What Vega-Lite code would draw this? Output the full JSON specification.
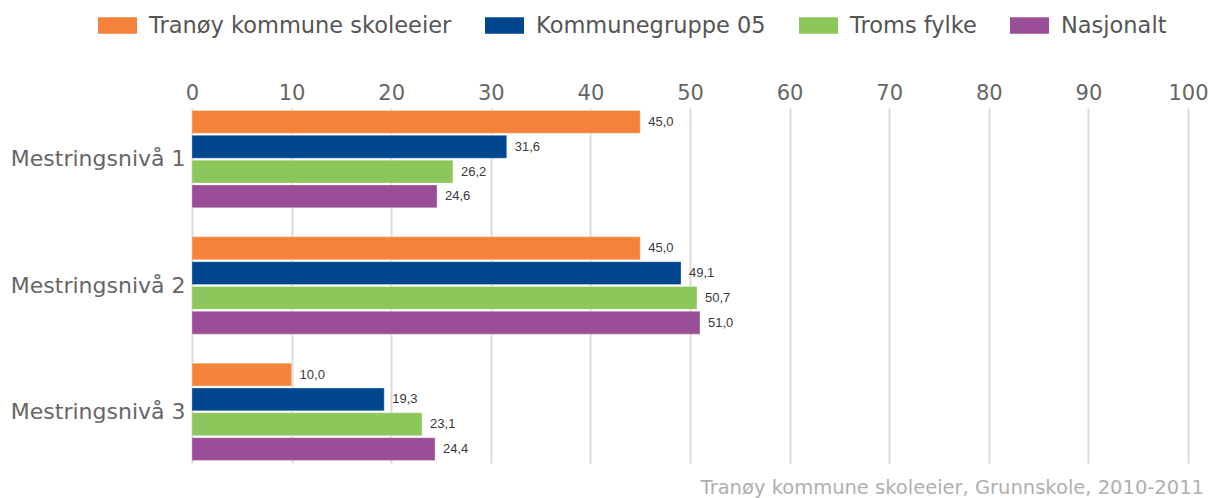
{
  "$schema": "https://vega.github.io/schema/vega-lite/v6.json",
  "width": 996,
  "height": 355,
  "autosize": {"type": "none"},
  "padding": {"left": 192, "top": 108, "right": 23, "bottom": 35},
  "background": "white",
  "title": {
    "text": "Tranøy kommune skoleeier, Grunnskole, 2010-2011",
    "orient": "bottom",
    "anchor": "end",
    "frame": "group",
    "font": "DejaVu Sans",
    "fontSize": 19.5,
    "fontWeight": "normal",
    "color": "#b0b0b0",
    "offset": 16,
    "dx": 16
  },
  "config": {
    "locale": {"number": {"decimal": ",", "thousands": " ", "grouping": [3], "currency": ["", " kr"]}},
    "view": {"stroke": null}
  },
  "data": {
    "values": [
      {"niva": "Mestringsnivå 1", "serie": "Tranøy kommune skoleeier", "verdi": 45.0},
      {"niva": "Mestringsnivå 1", "serie": "Kommunegruppe 05", "verdi": 31.6},
      {"niva": "Mestringsnivå 1", "serie": "Troms fylke", "verdi": 26.2},
      {"niva": "Mestringsnivå 1", "serie": "Nasjonalt", "verdi": 24.6},
      {"niva": "Mestringsnivå 2", "serie": "Tranøy kommune skoleeier", "verdi": 45.0},
      {"niva": "Mestringsnivå 2", "serie": "Kommunegruppe 05", "verdi": 49.1},
      {"niva": "Mestringsnivå 2", "serie": "Troms fylke", "verdi": 50.7},
      {"niva": "Mestringsnivå 2", "serie": "Nasjonalt", "verdi": 51.0},
      {"niva": "Mestringsnivå 3", "serie": "Tranøy kommune skoleeier", "verdi": 10.0},
      {"niva": "Mestringsnivå 3", "serie": "Kommunegruppe 05", "verdi": 19.3},
      {"niva": "Mestringsnivå 3", "serie": "Troms fylke", "verdi": 23.1},
      {"niva": "Mestringsnivå 3", "serie": "Nasjonalt", "verdi": 24.4}
    ]
  },
  "encoding": {
    "y": {
      "field": "niva",
      "type": "nominal",
      "sort": null,
      "scale": {"paddingInner": 0.23, "paddingOuter": 0.02},
      "axis": {
        "title": null,
        "ticks": false,
        "domain": false,
        "labelFont": "DejaVu Sans",
        "labelFontSize": 22,
        "labelColor": "#666666",
        "labelPadding": 7,
        "labelLimit": 300
      }
    },
    "yOffset": {
      "field": "serie",
      "type": "nominal",
      "sort": ["Tranøy kommune skoleeier", "Kommunegruppe 05", "Troms fylke", "Nasjonalt"],
      "scale": {"paddingInner": 0.08, "paddingOuter": 0}
    },
    "x": {
      "field": "verdi",
      "type": "quantitative",
      "scale": {"domain": [0, 100], "nice": false},
      "axis": {
        "orient": "top",
        "title": null,
        "values": [0, 10, 20, 30, 40, 50, 60, 70, 80, 90, 100],
        "format": "d",
        "ticks": false,
        "domain": false,
        "grid": true,
        "gridColor": "#dcdcdc",
        "gridWidth": 2,
        "labelFont": "DejaVu Sans",
        "labelFontSize": 21,
        "labelColor": "#666666",
        "labelPadding": 5,
        "labelFlush": false
      }
    }
  },
  "layer": [
    {
      "mark": {"type": "bar", "stroke": "white", "strokeWidth": 0.5, "strokeOpacity": 0.6},
      "encoding": {
        "color": {
          "field": "serie",
          "type": "nominal",
          "sort": ["Tranøy kommune skoleeier", "Kommunegruppe 05", "Troms fylke", "Nasjonalt"],
          "scale": {
            "domain": ["Tranøy kommune skoleeier", "Kommunegruppe 05", "Troms fylke", "Nasjonalt"],
            "range": ["#f5823a", "#00478f", "#8bc75a", "#9a4e98"]
          },
          "legend": {
            "orient": "none",
            "direction": "horizontal",
            "legendX": -94,
            "legendY": -102,
            "title": null,
            "symbolType": "M-1,-0.42H1V0.42H-1Z",
            "symbolSize": 1521,
            "symbolStrokeWidth": 0,
            "symbolOpacity": 1,
            "labelFont": "DejaVu Sans",
            "labelFontSize": 22.5,
            "labelColor": "#555555",
            "labelOffset": 12,
            "labelLimit": 400,
            "columnPadding": 33
          }
        }
      }
    },
    {
      "mark": {"type": "text", "align": "left", "baseline": "middle", "dx": 8, "font": "Liberation Sans", "fontSize": 13, "color": "#3a3a3a"},
      "encoding": {
        "text": {"field": "verdi", "type": "quantitative", "format": ".1f"}
      }
    }
  ]
}
